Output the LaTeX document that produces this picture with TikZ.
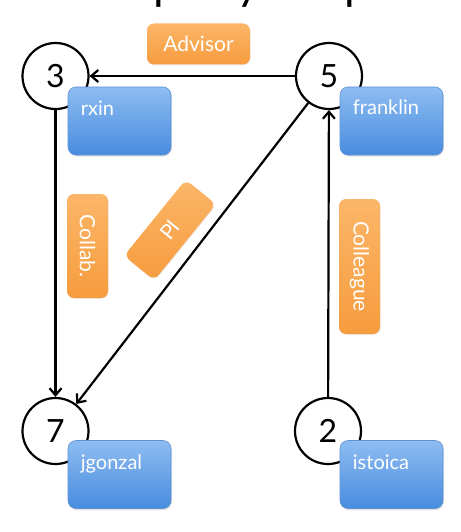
\documentclass[tikz,border=0pt]{standalone}
\usepackage{fontspec}
\setmainfont{Lato}
\usetikzlibrary{arrows.meta,shadows}
\definecolor{bluetop}{RGB}{142,188,242}
\definecolor{bluebot}{RGB}{72,140,222}
\definecolor{blueedge}{RGB}{96,146,212}
\definecolor{orangetop}{RGB}{252,182,104}
\definecolor{orangebot}{RGB}{246,156,62}
\begin{document}
\begin{tikzpicture}[x=1pt,y=-1pt,
  vertex/.style={circle,draw=black,line width=2.2pt,minimum size=66pt,inner sep=0pt,
    fill=white,font=\fontsize{32}{32}\selectfont},
  namebox/.style={rounded corners=8pt,draw=blueedge,line width=0.6pt,
    top color=bluetop,bottom color=bluebot,minimum width=103pt,minimum height=68pt,
    inner sep=0pt,drop shadow={shadow xshift=0.8pt,shadow yshift=-1.5pt,opacity=0.25}},
  nametext/.style={anchor=base west,inner sep=0pt,text=white,font=\fontsize{20}{20}\selectfont},
  edgelabel/.style={rounded corners=7pt,top color=orangetop,bottom color=orangebot,
    text=white,font=\fontsize{21}{21}\selectfont,inner sep=0pt,minimum height=41pt,
    drop shadow={shadow xshift=0.6pt,shadow yshift=-1pt,opacity=0.15}},
  link/.style={line width=2.2pt,-{Straight Barb[length=7pt,width=12pt]}}]
\useasboundingbox (0,0) rectangle (460,532);
% clipped title descenders
\begin{scope}
  \clip (0,0) rectangle (460,12);
  \node[anchor=base west,inner sep=0pt,font=\fontsize{46}{46}\selectfont] (title) at (84,-0.8) {Property Graph};
\end{scope}
% orange edge labels
\node[edgelabel,minimum width=103pt] (lAdv) at (198.5,44) {Advisor};
\node[edgelabel,minimum width=104pt,rotate=-90] (lCol) at (87.5,246) {Collab.};
\node[edgelabel,minimum width=135pt,rotate=-90] (lColl) at (359.5,266.5) {Colleague};
\node[edgelabel,minimum width=98pt,minimum height=39pt,rotate=51] (lPI) at (170,230) {PI};
% vertices
\node[vertex] (v3) at (55.5,76) {3};
\node[vertex] (v5) at (329,76) {5};
\node[vertex] (v7) at (55.5,431) {7};
\node[vertex] (v2) at (328,431) {2};
% edges
\draw[link] (v5) -- (v3);
\draw[link] (v3) -- (v7);
\draw[link] (v5) -- (v7);
\draw[link] (v2) -- (v5);
% name boxes
\node[namebox] (b3) at (119.5,121) {};
\node[namebox] (b5) at (391.5,121) {};
\node[namebox] (b7) at (119.5,474.5) {};
\node[namebox] (b2) at (391.5,474.5) {};
\node[nametext] (t3) at ([xshift=13pt,yshift=-29pt]b3.north west) {rxin};
\node[nametext] (t5) at ([xshift=13pt,yshift=-28pt]b5.north west) {franklin};
\node[nametext] (t7) at ([xshift=13pt,yshift=-29pt]b7.north west) {jgonzal};
\node[nametext] (t2) at ([xshift=13pt,yshift=-29pt]b2.north west) {istoica};
\end{tikzpicture}
\end{document}
